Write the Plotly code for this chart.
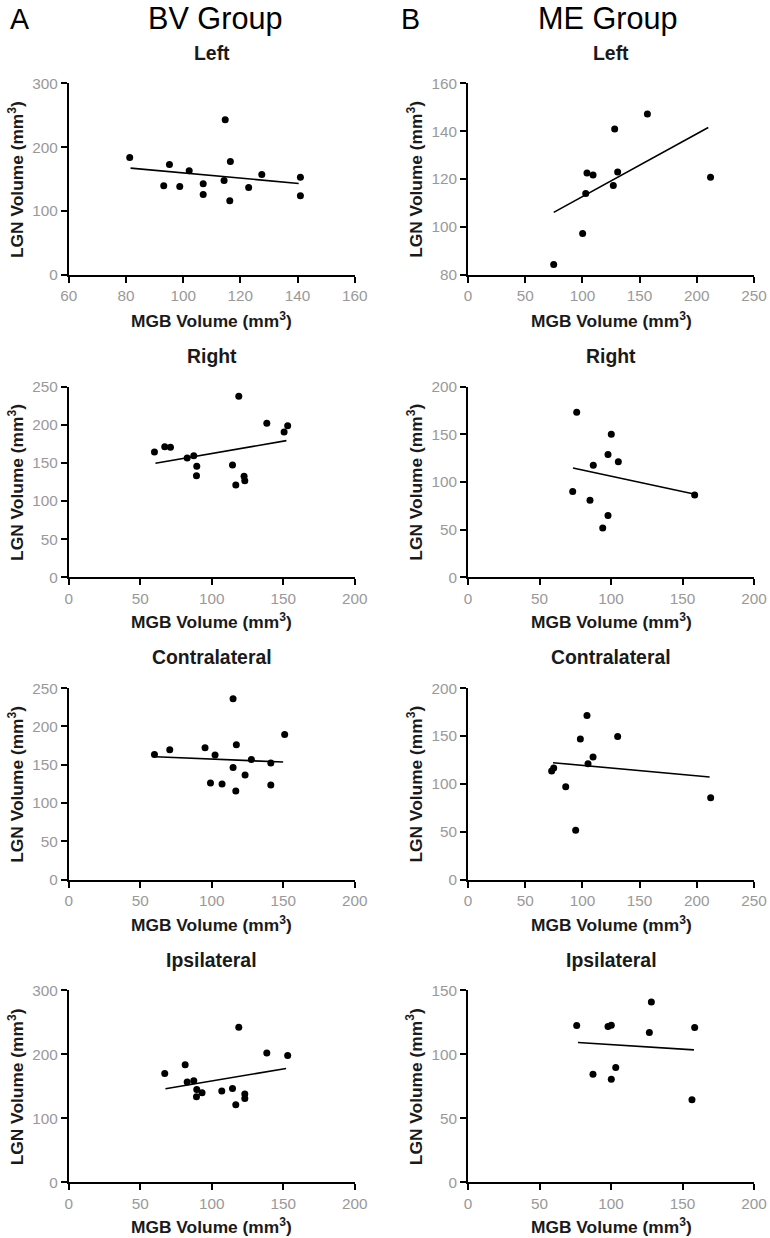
import plotly.graph_objects as go

# ---------------- data ----------------
# BV Group (column A)
bv_left_mgb = [81.3, 93.2, 95.2, 98.8, 102.1, 107.0, 107.0, 114.3, 114.7, 116.5, 116.3, 122.9, 127.5, 141.0, 141.0]
bv_left_lgn = [184, 139.6, 173, 138.5, 163, 142.7, 126, 148, 243, 177.7, 116, 137, 157.3, 153, 124]
bv_left_fit_x = [81.6, 140.4]
bv_left_fit_y = [167.3, 143.2]

bv_right_mgb = [59.9, 67.1, 71.1, 82.8, 87.4, 89.5, 89.3, 114.5, 116.8, 118.9, 122.6, 123.1, 138.5, 150.6, 153.1]
bv_right_lgn = [164.3, 171.3, 170.5, 156.5, 159.5, 145.5, 133.3, 147.3, 121, 237.3, 132.4, 126.7, 201.9, 190.6, 198.9]
bv_right_fit_x = [60.6, 152.2]
bv_right_fit_y = [149.5, 179.2]

bv_contra_mgb = [59.9, 70.6, 95.3, 102.3, 99.1, 107.2, 114.9, 114.9, 117.2, 116.8, 123.3, 127.7, 141.3, 141.3, 151.0]
bv_contra_lgn = [163.5, 169.6, 172.2, 162.6, 126.1, 124.8, 236.1, 146.5, 176.1, 115.7, 136.5, 156.9, 152.2, 123.5, 189.6]
bv_contra_fit_x = [60.6, 149.9]
bv_contra_fit_y = [160.4, 153.5]

bv_ipsi_mgb = [67.1, 81.4, 82.8, 87.4, 89.5, 89.3, 93.2, 107.0, 114.5, 116.8, 118.9, 123.1, 123.1, 138.5, 153.1]
bv_ipsi_lgn = [170.3, 183.9, 156.8, 158.9, 145.3, 133.9, 140.1, 142.7, 146.9, 121.4, 242.7, 138, 131.3, 202.1, 198.4]
bv_ipsi_fit_x = [67.6, 152.0]
bv_ipsi_fit_y = [146.4, 178.1]

# ME Group (column B)
me_left_mgb = [74.9, 100.2, 102.9, 104.0, 109.3, 127.0, 128.2, 130.8, 156.8, 212.0]
me_left_lgn = [84.3, 97.3, 114, 122.6, 121.7, 117.3, 141, 123, 147.2, 120.8]
me_left_fit_x = [74.9, 210.0]
me_left_fit_y = [106.1, 141.6]

me_right_mgb = [76.0, 73.2, 85.3, 87.6, 97.9, 100.2, 105.1, 97.9, 94.2, 158.5]
me_right_lgn = [173.1, 89.9, 80.8, 117.5, 128.7, 150, 121.3, 64.7, 51.7, 86.4]
me_right_fit_x = [73.4, 158.0]
me_right_fit_y = [114.7, 87.4]

me_contra_mgb = [73.1, 74.9, 85.4, 94.1, 98.2, 104.0, 104.9, 109.3, 130.8, 212.1]
me_contra_lgn = [113.4, 116.5, 97, 51.5, 146.8, 171.5, 121, 128, 149.6, 85.6]
me_contra_fit_x = [74.3, 211.2]
me_contra_fit_y = [122.1, 107.1]

me_ipsi_mgb = [76.0, 87.4, 97.9, 100.2, 100.2, 103.3, 126.8, 128.2, 158.5, 156.6]
me_ipsi_lgn = [122.7, 84.6, 121.9, 122.9, 80.7, 89.8, 117.2, 141.1, 121, 64.6]
me_ipsi_fit_x = [76.9, 158.0]
me_ipsi_fit_y = [109.4, 103.6]

panel_titles = ["Left", "Right", "Contralateral", "Ipsilateral"]
group_titles = ["BV Group", "ME Group"]
panel_letters = ["A", "B"]

# axis ranges / ticks  (row-major: A1, B1, A2, B2, ...)
x_ranges = [[60, 160], [0, 250], [0, 200], [0, 200], [0, 200], [0, 250], [0, 200], [0, 200]]
x_dticks = [20, 50, 50, 50, 50, 50, 50, 50]
y_ranges = [[0, 300], [80, 160], [0, 250], [0, 200], [0, 250], [0, 200], [0, 300], [0, 150]]
y_dticks = [100, 20, 50, 50, 50, 50, 100, 50]

panels = [
    (bv_left_mgb, bv_left_lgn, bv_left_fit_x, bv_left_fit_y),
    (me_left_mgb, me_left_lgn, me_left_fit_x, me_left_fit_y),
    (bv_right_mgb, bv_right_lgn, bv_right_fit_x, bv_right_fit_y),
    (me_right_mgb, me_right_lgn, me_right_fit_x, me_right_fit_y),
    (bv_contra_mgb, bv_contra_lgn, bv_contra_fit_x, bv_contra_fit_y),
    (me_contra_mgb, me_contra_lgn, me_contra_fit_x, me_contra_fit_y),
    (bv_ipsi_mgb, bv_ipsi_lgn, bv_ipsi_fit_x, bv_ipsi_fit_y),
    (me_ipsi_mgb, me_ipsi_lgn, me_ipsi_fit_x, me_ipsi_fit_y),
]

# ---------------- layout geometry (target pixels in the photo) ----------------
W, H = 770, 1238
# the photographed page appears inset by ~8px and shrunk to (W-16)x(H-16);
# target pixel positions are converted back to page coordinates
INSET = 8
SX, SY = (W - 2 * INSET) / W, (H - 2 * INSET) / H
col_x = [(68.3, 356.5), (470.7, 759.0)]
row_y = [(82.5, 274.0), (386.0, 576.7), (687.7, 879.3), (990.3, 1182.3)]
title_y = [52, 355, 657, 960]
xtitle_dy = [45, 44, 44, 44]
ytitle_x = [15, 417]

FONT = "Liberation Sans, Arial, sans-serif"
TICK_GRAY = "#999999"
TEXT_DARK = "#1a1a1a"
FS = 1 / SX   # font compensation

fig = go.Figure()
layout = dict(
    width=W, height=H,
    margin=dict(l=0, r=0, t=0, b=0),
    paper_bgcolor="white", plot_bgcolor="white",
    showlegend=False,
    font=dict(family=FONT, color="black"),
)
annotations = []

def px(t):
    return ((t - INSET) / SX) / W

def py(t):
    return 1 - ((t - INSET) / SY) / H

for i, (xs, ys, fx, fy) in enumerate(panels):
    r, c = divmod(i, 2)
    n = i + 1
    xa = "x" if n == 1 else f"x{n}"
    ya = "y" if n == 1 else f"y{n}"
    fig.add_trace(go.Scatter(x=xs, y=ys, mode="markers", xaxis=xa, yaxis=ya,
                             marker=dict(size=7, color="black"), hoverinfo="x+y"))
    fig.add_trace(go.Scatter(x=fx, y=fy, mode="lines", xaxis=xa, yaxis=ya,
                             line=dict(color="black", width=1.6), hoverinfo="skip"))
    x0, x1 = col_x[c]
    y0, y1 = row_y[r]
    common = dict(showgrid=False, zeroline=False, showline=True, linecolor="black",
                  linewidth=2, ticks="outside", ticklen=6, tickwidth=1.5, tickcolor="black",
                  tickfont=dict(family=FONT, size=15 * FS, color=TICK_GRAY))
    layout["xaxis" if n == 1 else f"xaxis{n}"] = dict(
        domain=[px(x0), min(px(x1), 1.0)], anchor=ya, range=x_ranges[i], dtick=x_dticks[i],
        tick0=x_ranges[i][0], **common)
    layout["yaxis" if n == 1 else f"yaxis{n}"] = dict(
        domain=[py(y1), py(y0)], anchor=xa, range=y_ranges[i], dtick=y_dticks[i],
        tick0=y_ranges[i][0], **common)
    cx = (x0 + x1) / 2
    # panel title
    annotations.append(dict(text=f"<b>{panel_titles[r]}</b>", x=px(cx), y=py(title_y[r]),
                            xref="paper", yref="paper", showarrow=False,
                            font=dict(family=FONT, size=19 * FS, color=TEXT_DARK),
                            xanchor="center", yanchor="middle"))
    # x axis title
    annotations.append(dict(text="<b>MGB Volume (mm<sup>3</sup>)</b>", x=px(cx),
                            y=py(y1 + xtitle_dy[r]), xref="paper", yref="paper", showarrow=False,
                            font=dict(family=FONT, size=17 * FS, color=TEXT_DARK),
                            xanchor="center", yanchor="middle"))
    # y axis title
    annotations.append(dict(text="<b>LGN Volume (mm<sup>3</sup>)</b>", x=px(ytitle_x[c]),
                            y=py((y0 + y1) / 2), xref="paper", yref="paper", showarrow=False,
                            textangle=-90, font=dict(family=FONT, size=17 * FS, color=TEXT_DARK),
                            xanchor="center", yanchor="middle"))

# group titles and panel letters
for c, (gx, lx) in enumerate([(216, 12.5), (612, 412.5)]):
    annotations.append(dict(text=group_titles[c], x=px(gx), y=py(18), xref="paper", yref="paper",
                            showarrow=False, font=dict(family=FONT, size=30 * FS, color="black"),
                            xanchor="center", yanchor="middle"))
    annotations.append(dict(text=panel_letters[c], x=max(px(lx), 0.014), y=py(18),
                            xref="paper", yref="paper", showarrow=False,
                            font=dict(family=FONT, size=28 * FS, color="black"),
                            xanchor="center", yanchor="middle", borderpad=0))

layout["annotations"] = annotations
fig.update_layout(**layout)
fig.write_html("out.html", config={"displayModeBar": False},
               post_script="document.body.style.margin='0';")
